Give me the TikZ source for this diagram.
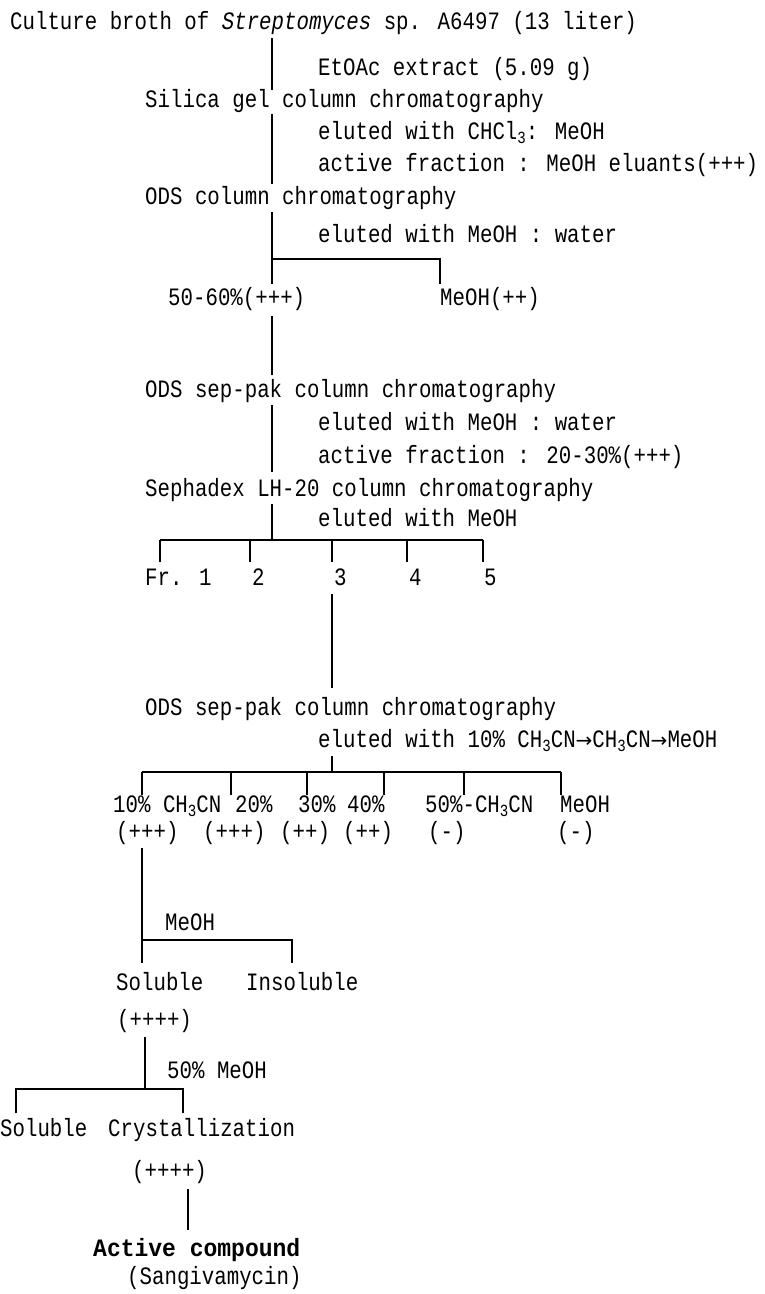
\documentclass[tikz,border=0pt]{standalone}
\usepackage{fontspec}
\newfontfamily\tw[FakeStretch=0.83]{Liberation Mono}
\newfontfamily\twb[FakeStretch=0.92]{Liberation Mono}
\newfontfamily\arr{DejaVu Sans}
\newcommand\sub[1]{\raisebox{-0.35ex}{\fontsize{17}{17}\selectfont #1}}
\newcommand\toarrow{{\arr\fontsize{20}{20}\selectfont →}}
\begin{document}
\begin{tikzpicture}[x=1pt,y=-1pt,
  txt/.style={anchor=base west, inner sep=0pt, font=\fontsize{25}{30}\tw},
  ln/.style={line width=1.2pt}]
\useasboundingbox (0,0) rectangle (764,1294);

% ---- culture broth and silica gel step
\node[txt] (broth) at (10,29) {Culture broth of {\itshape Streptomyces} sp. A6497 (13 liter)};
\node[txt] (etoac) at (318,75) {EtOAc extract (5.09 g)};
\node[txt] (silica) at (145,107) {Silica gel column chromatography};
\node[txt] (elsil) at (318,139) {eluted with CHCl\sub{3}: MeOH};
\node[txt] (actsil) at (318,171) {active fraction : MeOH eluants(+++)};
\node[txt] (ods) at (145,204) {ODS column chromatography};

\coordinate (a1) at (272,38);  \coordinate (a2) at (272,90);
\coordinate (a3) at (272,114); \coordinate (a4) at (272,184);
\draw[ln] (a1) -- (a2);
\draw[ln] (a3) -- (a4);

% ---- ODS column
\node[txt] (elods) at (318,242) {eluted with MeOH : water};
\coordinate (b1) at (272,212); \coordinate (b2) at (272,259);
\coordinate (b3) at (440,259); \coordinate (b4) at (440,284);
\coordinate (b5) at (272,284);
\draw[ln] (b1) -- (b5);
\draw[ln] (b2) -- (b3) -- (b4);
\node[txt] (f5060) at (168,305) {50-60\%(+++)};
\node[txt] (fmeoh) at (440,305) {MeOH(++)};

% ---- ODS sep-pak
\coordinate (c1) at (272,316); \coordinate (c2) at (272,375);
\draw[ln] (c1) -- (c2);
\node[txt] (sep1) at (145,397) {ODS sep-pak column chromatography};
\node[txt] (elsep1) at (318,430) {eluted with MeOH : water};
\node[txt] (actsep1) at (318,463) {active fraction : 20-30\%(+++)};
\coordinate (d1) at (272,405); \coordinate (d2) at (272,472);
\draw[ln] (d1) -- (d2);

% ---- Sephadex LH-20
\node[txt] (seph) at (145,496) {Sephadex LH-20 column chromatography};
\node[txt] (elseph) at (318,526) {eluted with MeOH};
\coordinate (e0) at (272,504); \coordinate (e1) at (272,540);
\draw[ln] (e0) -- (e1);
\foreach \n/\x in {1/160,2/250,3/332,4/407,5/483}{
  \coordinate (fr\n top) at (\x,540);
  \coordinate (fr\n end) at (\x,562);
}
\draw[ln] (fr1top) -- (fr5top);
\foreach \n in {1,...,5}{\draw[ln] (fr\n top) -- (fr\n end);}
\node[txt] (fr1) at (145,585) {Fr. 1};
\node[txt] (fr2) at (252,585) {2};
\node[txt] (fr3) at (334,585) {3};
\node[txt] (fr4) at (409,585) {4};
\node[txt] (fr5) at (484,585) {5};

% ---- second ODS sep-pak on fraction 3
\coordinate (g1) at (332,594); \coordinate (g2) at (332,688);
\draw[ln] (g1) -- (g2);
\node[txt] (sep2) at (145,715) {ODS sep-pak column chromatography};
\node[txt] (elsep2) at (318,747) {eluted with 10\% CH\sub{3}CN\toarrow CH\sub{3}CN\toarrow MeOH};
\coordinate (h1) at (332,756); \coordinate (h2) at (332,772);
\draw[ln] (h1) -- (h2);
\foreach \n/\x in {1/142,2/231,3/307,4/384,5/464,6/561}{
  \coordinate (k\n top) at (\x,772);
  \coordinate (k\n end) at (\x,795);
}
\draw[ln] (k1top) -- (k6top);
\foreach \n in {1,...,6}{\draw[ln] (k\n top) -- (k\n end);}
\node[txt] (p10) at (113,812) {10\% CH\sub{3}CN};
\node[txt] (p20) at (235,812) {20\%};
\node[txt] (p30) at (298,812) {30\%};
\node[txt] (p40) at (347,812) {40\%};
\node[txt] (p50) at (425,812) {50\%-CH\sub{3}CN};
\node[txt] (pme) at (560,812) {MeOH};
\node[txt] (q10) at (116,839) {(+++)};
\node[txt] (q20) at (203,839) {(+++)};
\node[txt] (q30) at (280,839) {(++)};
\node[txt] (q40) at (343,839) {(++)};
\node[txt] (q50) at (428,839) {(-)};
\node[txt] (qme) at (557,839) {(-)};

% ---- MeOH solubility
\coordinate (m1) at (142,848); \coordinate (m2) at (142,940);
\coordinate (m3) at (292,940); \coordinate (m4) at (292,963);
\coordinate (m5) at (142,963);
\draw[ln] (m1) -- (m5);
\draw[ln] (m2) -- (m3) -- (m4);
\node[txt] (meoh) at (165,930) {MeOH};
\node[txt] (sol1) at (116,990) {Soluble};
\node[txt] (insol) at (246,990) {Insoluble};
\node[txt] (sol1act) at (117,1027) {(++++)};

% ---- 50% MeOH and crystallization
\coordinate (n1) at (145,1037); \coordinate (n2) at (145,1089);
\coordinate (n3) at (16,1089);  \coordinate (n4) at (16,1113);
\coordinate (n5) at (183,1089); \coordinate (n6) at (183,1113);
\draw[ln] (n1) -- (n2);
\draw[ln] (n4) -- (n3) -- (n5) -- (n6);
\node[txt] (meoh50) at (167,1078) {50\% MeOH};
\node[txt] (sol2) at (0,1136) {Soluble};
\node[txt] (cryst) at (108,1136) {Crystallization};
\node[txt] (crystact) at (132,1178) {(++++)};
\coordinate (r1) at (188,1189); \coordinate (r2) at (188,1230);
\draw[ln] (r1) -- (r2);
\node[txt, font=\fontsize{25}{30}\twb\bfseries] (active) at (93,1256) {Active compound};
\node[txt] (sangi) at (127,1284) {(Sangivamycin)};
\end{tikzpicture}
\end{document}
